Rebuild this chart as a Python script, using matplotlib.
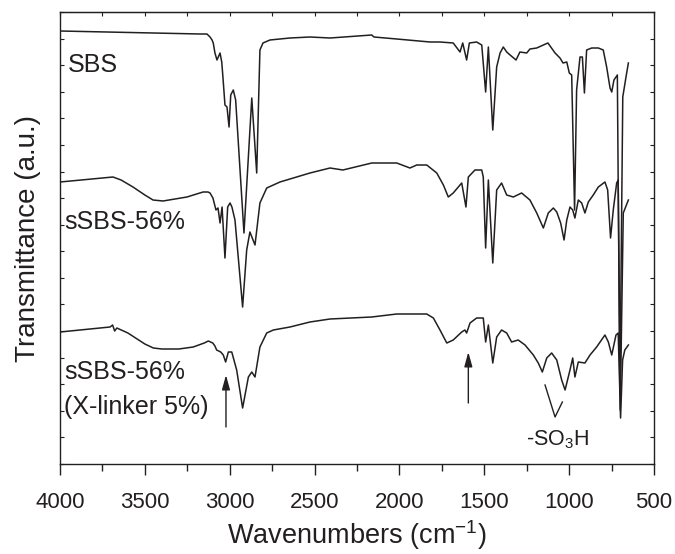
import matplotlib
matplotlib.use("Agg")
import matplotlib.pyplot as plt
from matplotlib.ticker import MultipleLocator, FixedLocator
import numpy as np

plt.rcParams['font.family'] = ['Liberation Sans', 'DejaVu Sans']
plt.rcParams['mathtext.fontset'] = 'custom'
plt.rcParams['mathtext.rm'] = 'Liberation Sans'
plt.rcParams['mathtext.it'] = 'Liberation Sans:italic'
plt.rcParams['mathtext.bf'] = 'Liberation Sans:bold'

# ---------------- data (wavenumber cm^-1, transmittance a.u.) ----------------
sbs_wn = [4000, 3175, 3134, 3116, 3104, 3097, 3087, 3075, 3057, 3047, 3040, 3028, 3016,
          3004, 2994, 2979, 2965, 2916, 2870, 2841, 2822, 2804, 2763, 2645, 2527, 2409,
          2163, 2150, 2016, 1820, 1761, 1683, 1643, 1627, 1604, 1588, 1545, 1515, 1492,
          1476, 1450, 1427, 1407, 1388, 1368, 1348, 1313, 1290, 1250, 1231, 1191, 1152,
          1125, 1083, 1054, 1036, 1014, 999, 985, 968, 956, 936, 922, 910, 897, 867, 828,
          799, 779, 759, 749, 736, 716, 701, 684, 665, 651]
sbs_t = [433, 430, 430, 427, 424, 421, 411, 404, 411, 402, 387, 359, 357,
         337, 369, 374, 364, 231, 366, 291, 414, 421, 424, 426, 427, 426,
         429, 427, 425, 422, 422, 421, 412, 421, 404, 421, 422, 419, 372,
         417, 334, 397, 411, 417, 412, 409, 404, 412, 411, 415, 416, 419,
         421, 411, 406, 401, 402, 391, 389, 254, 374, 407, 407, 371, 414, 416, 416,
         414, 397, 376, 372, 384, 389, 69, 367, 387, 401]

ssbs_wn = [4000, 3688, 3640, 3570, 3500, 3452, 3393, 3252, 3157, 3128, 3116, 3099, 3081,
           3069, 3057, 3045, 3028, 3012, 2998, 2987, 2969, 2924, 2900, 2881, 2851, 2822,
           2782, 2704, 2527, 2409, 2333, 2163, 2016, 1938, 1898, 1839, 1780, 1741, 1712,
           1683, 1633, 1608, 1594, 1555, 1515, 1506, 1492, 1476, 1450, 1427, 1398, 1368,
           1329, 1280, 1231, 1191, 1152, 1123, 1093, 1073, 1050, 1030, 1014, 995, 979,
           966, 946, 926, 907, 887, 858, 828, 789, 773, 756, 740, 720, 711, 699, 681, 651]
ssbs_t = [282, 287, 284, 277, 269, 264, 263, 267, 272, 272, 271, 266, 254,
          256, 241, 257, 206, 257, 261, 257, 244, 157, 214, 232, 219, 261,
          276, 282, 291, 296, 294, 301, 301, 296, 299, 299, 291, 279, 267,
          271, 281, 257, 287, 294, 294, 287, 216, 284, 201, 274, 281, 269,
          267, 271, 264, 251, 236, 251, 256, 252, 241, 224, 244, 257, 254,
          246, 264, 261, 251, 262, 269, 277, 282, 274, 226, 254, 281, 284, 54, 251, 264]

xl_wn = [4000, 3705, 3690, 3678, 3665, 3600, 3500, 3450, 3400, 3300, 3215, 3150, 3126,
         3100, 3087, 3077, 3053, 3038, 3024, 3008, 2988, 2959, 2924, 2890, 2870, 2851,
         2822, 2782, 2743, 2645, 2527, 2409, 2163, 2016, 1839, 1800, 1761, 1721, 1683,
         1633, 1614, 1604, 1584, 1545, 1506, 1492, 1476, 1450, 1427, 1398, 1368, 1339,
         1300, 1260, 1211, 1182, 1158, 1132, 1103, 1073, 1044, 1024, 995, 979, 966, 946,
         907, 877, 838, 789, 769, 749, 724, 711, 697, 685, 672, 651]
xl_t = [132, 137, 139, 133, 136, 131, 120, 116, 115, 115, 117, 121, 123,
        121, 118, 114, 112, 109, 102, 112, 112, 94, 56, 87, 92, 87,
        117, 131, 134, 137, 142, 145, 147, 150, 150, 146, 134, 121, 124,
        132, 134, 131, 141, 146, 146, 122, 139, 101, 127, 134, 131, 122,
        124, 119, 109, 101, 92, 106, 111, 104, 84, 74, 94, 106, 87, 102,
        101, 109, 117, 129, 122, 109, 129, 131, 46, 104, 114, 119]

labels = ["SBS", "sSBS-56%", "sSBS-56%", "(X-linker 5%)"]

ink = '#231f20'

fig = plt.figure(figsize=(6.75, 5.54), dpi=100)
ax = fig.add_axes([60/675, 90/554, 594/675, 452/554])

for wn, t in [(sbs_wn, sbs_t), (ssbs_wn, ssbs_t), (xl_wn, xl_t)]:
    ax.plot(wn, t, color=ink, lw=1.1)

ax.set_xlim(4000, 500)
ax.set_ylim(0, 452)

# x ticks (bottom, outward)
ax.xaxis.set_major_locator(MultipleLocator(500))
ax.xaxis.set_minor_locator(MultipleLocator(250))
ax.tick_params(axis='x', which='major', direction='out', length=8, width=1,
               labelsize=16, pad=12, colors=ink, top=False)
ax.tick_params(axis='x', which='minor', direction='out', length=5, width=1,
               colors=ink, top=False)

# top ticks (inward)
sec = ax.secondary_xaxis('top')
sec.xaxis.set_major_locator(MultipleLocator(250))
sec.tick_params(axis='x', which='major', direction='in', length=3, width=0.8,
                labeltop=False, colors=ink)
sec.spines['top'].set_color(ink)

# y ticks (inward, both sides, no labels)
ax.yaxis.set_major_locator(FixedLocator(np.linspace(0, 452, 18)))
ax.tick_params(axis='y', which='major', direction='in', length=3, width=0.8,
               left=True, right=True, labelleft=False, colors=ink)

for s in ax.spines.values():
    s.set_color(ink)
    s.set_linewidth(1.0)

ax.text(0.5, -0.178, "Wavenumbers (cm$^{-1}$)", transform=ax.transAxes,
        fontsize=19.5, color=ink, ha='center', va='baseline')
ax.set_ylabel("Transmittance (a.u.)", fontsize=20, color=ink)
ax.yaxis.set_label_coords(-0.032, 0.5)

# curve labels
ax.text(3953, 399, labels[0], fontsize=18, color=ink, ha='left', va='center')
ax.text(3976, 242, labels[1], fontsize=18, color=ink, ha='left', va='center')
ax.text(3976, 92, labels[2], fontsize=18, color=ink, ha='left', va='center')
ax.text(3976, 57, labels[3], fontsize=18, color=ink, ha='left', va='center')

# arrows
arrow = dict(arrowstyle='-|>,head_length=0.8,head_width=0.22', mutation_scale=11,
             lw=1, color=ink, shrinkA=0, shrinkB=0)
ax.annotate('', xy=(3022, 89), xytext=(3022, 37), arrowprops=arrow)
ax.annotate('', xy=(1594, 112), xytext=(1594, 61), arrowprops=arrow)

# -SO3H marker
ax.plot([1142, 1083, 1040], [79, 47, 62], color=ink, lw=1)
ax.text(1069, 24, "-SO$_3$H", fontsize=15.5, color=ink, ha='center', va='center')

fig.savefig("out.png", dpi=100)
